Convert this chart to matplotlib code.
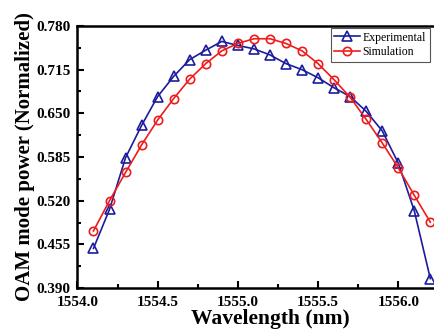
import numpy as np
import matplotlib
matplotlib.use("Agg")
import matplotlib.pyplot as plt
from matplotlib.ticker import MultipleLocator, FormatStrFormatter

# data
wavelength = [1554.1, 1554.2, 1554.3, 1554.4, 1554.5, 1554.6, 1554.7, 1554.8, 1554.9, 1555.0, 1555.1,
              1555.2, 1555.3, 1555.4, 1555.5, 1555.6, 1555.7, 1555.8, 1555.9, 1556.0, 1556.1, 1556.2]
experimental = [0.449, 0.507, 0.584, 0.632, 0.675, 0.705, 0.730, 0.744, 0.757, 0.751, 0.746,
                0.737, 0.724, 0.715, 0.703, 0.688, 0.675, 0.653, 0.624, 0.576, 0.505, 0.404]
simulation = [0.475, 0.520, 0.562, 0.603, 0.640, 0.672, 0.701, 0.724, 0.743, 0.754, 0.761,
              0.761, 0.754, 0.743, 0.724, 0.700, 0.674, 0.641, 0.606, 0.569, 0.528, 0.488]

plt.rcParams['font.family'] = 'Liberation Serif'

fig = plt.figure(figsize=(4.35, 3.33), dpi=100)
ax = fig.add_axes([0.178, 0.135, 0.885, 0.787])

ax.plot(wavelength, experimental, color='#1c1c9c', lw=1.2, marker='^', ms=6.5,
        mfc='none', mec='#1c1c9c', mew=1.2, label='Experimental')
ax.plot(wavelength, simulation, color='#ee1c1c', lw=1.2, marker='o', ms=6,
        mfc='none', mec='#ee1c1c', mew=1.2, label='Simulation')

ax.set_xlim(1554.0, 1556.4)
ax.set_ylim(0.390, 0.780)
ax.xaxis.set_major_locator(MultipleLocator(0.5))
ax.xaxis.set_minor_locator(MultipleLocator(0.25))
ax.yaxis.set_major_locator(MultipleLocator(0.065))
ax.yaxis.set_minor_locator(MultipleLocator(0.0325))
ax.xaxis.set_major_formatter(FormatStrFormatter('%.1f'))
ax.yaxis.set_major_formatter(FormatStrFormatter('%.3f'))

ax.tick_params(which='both', direction='in', top=False, right=False, width=1.5)
ax.tick_params(which='major', length=5, labelsize=11)
ax.tick_params(axis='x', which='major', pad=6)
ax.tick_params(axis='y', which='major', pad=5)
ax.tick_params(which='minor', length=3)
for lab in ax.get_xticklabels() + ax.get_yticklabels():
    lab.set_fontweight('bold')
for s in ax.spines.values():
    s.set_linewidth(1.8)

ax.set_xlabel('Wavelength (nm)', fontsize=15.5, fontweight='bold', labelpad=0)
ax.set_ylabel('OAM mode power (Normalized)', fontsize=15, fontweight='bold', labelpad=1)

leg = ax.legend(loc='upper left', bbox_to_anchor=(0.658, 0.992), borderaxespad=0,
                fontsize=8.5, fancybox=False, edgecolor='#555555', framealpha=1,
                handlelength=2.2, handletextpad=0.2, borderpad=0.3, labelspacing=0.2)
leg.get_frame().set_linewidth(0.8)

fig.savefig('out.png', dpi=100)
